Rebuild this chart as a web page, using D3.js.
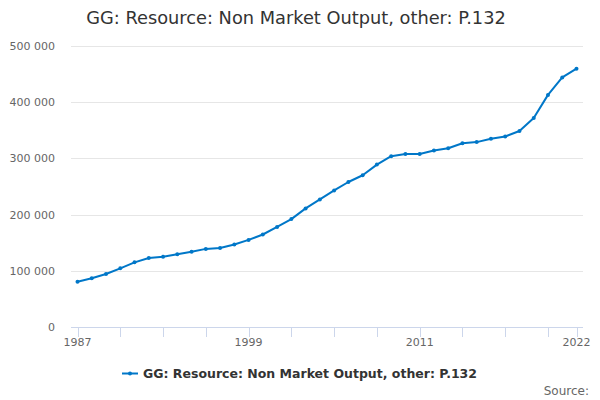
<!DOCTYPE html>
<html><head><meta charset="utf-8">
<script src="https://cdn.jsdelivr.net/npm/d3@7"></script>
<style>body{margin:0;background:#fff}svg{display:block;font-family:"DejaVu Sans",sans-serif}</style>
</head><body><svg id="c" width="600" height="400"></svg>
<script>
const title = "GG: Resource: Non Market Output, other: P.132";
const seriesName = "GG: Resource: Non Market Output, other: P.132";
const years = [1987,1988,1989,1990,1991,1992,1993,1994,1995,1996,1997,1998,1999,2000,2001,2002,2003,2004,2005,2006,2007,2008,2009,2010,2011,2012,2013,2014,2015,2016,2017,2018,2019,2020,2021,2022];
const values = [80600,86700,94300,104400,115000,122800,125000,129300,134000,139000,140500,146800,155000,164600,178000,192000,211000,227000,243000,258000,270000,289000,304000,308000,308000,314000,318000,327000,329000,335000,339000,348800,372000,413000,444000,459600];
const yTicks = [0,100000,200000,300000,400000,500000];
const xLabelYears = [1987,1999,2011,2022];
const xTickYears = [1987,1990,1993,1996,1999,2002,2005,2008,2011,2014,2017,2020,2022];

const svg = d3.select("#c");
const L = 71, R = 583, T = 46, B = 327;
const x = d3.scaleLinear().domain([1987,2022]).range([77.5,576.5]);
const y = d3.scaleLinear().domain([0,500000]).range([B,T]);
const fmt = v => d3.format(",")(v).replace(/,/g," ");

svg.append("text").attr("x",296).attr("y",24).attr("text-anchor","middle")
  .attr("fill","#333").style("font-size","17.8px").text(title);

// grid
svg.append("g").selectAll("line").data(yTicks.filter(d=>d>0)).join("line")
  .attr("x1",L).attr("x2",R).attr("y1",d=>Math.round(y(d))+0.5).attr("y2",d=>Math.round(y(d))+0.5)
  .attr("stroke","#e6e6e6");
svg.append("g").selectAll("text").data(yTicks).join("text")
  .attr("x",55).attr("y",d=>y(d)+4).attr("text-anchor","end")
  .attr("fill","#666").style("font-size","11px").text(fmt);

// x axis
svg.append("line").attr("x1",L).attr("x2",R).attr("y1",B+0.5).attr("y2",B+0.5).attr("stroke","#ccd6eb");
svg.append("g").selectAll("line").data(xTickYears).join("line")
  .attr("x1",d=>Math.round(x(d))+0.5).attr("x2",d=>Math.round(x(d))+0.5).attr("y1",B).attr("y2",B+10)
  .attr("stroke","#ccd6eb");
svg.append("g").selectAll("text").data(xLabelYears).join("text")
  .attr("x",d=>x(d)).attr("y",346).attr("text-anchor","middle")
  .attr("fill","#666").style("font-size","11px").text(d=>d);

// line
const data = years.map((yr,i)=>({yr,v:values[i]}));
svg.append("path").datum(data).attr("fill","none").attr("stroke","#0077c8").attr("stroke-width",2)
  .attr("stroke-linejoin","round")
  .attr("d",d3.line().x(d=>x(d.yr)).y(d=>y(d.v)));
svg.append("g").selectAll("circle").data(data).join("circle")
  .attr("cx",d=>x(d.yr)).attr("cy",d=>y(d.v)).attr("r",2).attr("fill","#0077c8");

// legend
const lg = svg.append("g");
lg.append("line").attr("x1",122).attr("x2",138).attr("y1",373.5).attr("y2",373.5).attr("stroke","#0077c8").attr("stroke-width",2);
lg.append("circle").attr("cx",130).attr("cy",373.5).attr("r",2).attr("fill","#0077c8");
lg.append("text").attr("x",143).attr("y",378).attr("fill","#333").style("font-size","12.5px").style("font-weight","bold").text(seriesName);

svg.append("text").attr("x",589).attr("y",395).attr("text-anchor","end").attr("fill","#666").style("font-size","12px").text("Source:");
</script></body></html>
